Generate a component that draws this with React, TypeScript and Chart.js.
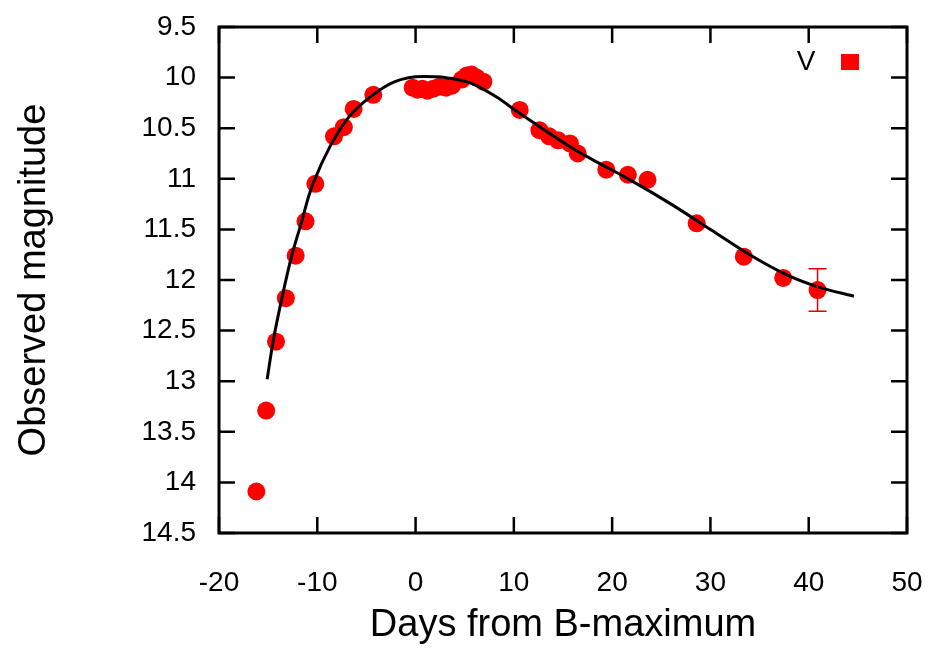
import React, { useEffect, useRef } from 'react';
import { Chart, registerables } from 'chart.js';

Chart.register(...registerables);

// ---- data ----
const obsDays = [-16.2, -15.2, -14.2, -13.2, -12.2, -11.2, -10.2, -8.3, -7.3, -6.3, -4.3, -0.3, 0.2, 0.7, 1.2, 1.8, 2.4, 3.1, 3.7, 4.7, 5.2, 5.7, 6.2, 6.9, 10.6, 12.6, 13.6, 14.5, 15.7, 16.5, 19.4, 21.6, 23.6, 28.6, 33.4, 37.4, 40.9];
const obsMag = [14.09, 13.29, 12.61, 12.18, 11.76, 11.42, 11.05, 10.58, 10.49, 10.31, 10.17, 10.10, 10.12, 10.11, 10.13, 10.11, 10.09, 10.10, 10.08, 10.02, 9.98, 9.97, 10.0, 10.04, 10.32, 10.52, 10.58, 10.62, 10.65, 10.75, 10.91, 10.96, 11.01, 11.44, 11.77, 11.98, 12.10];
const obsErr = [0, 0, 0, 0, 0, 0, 0, 0, 0, 0, 0, 0, 0, 0, 0, 0, 0, 0, 0, 0, 0, 0, 0, 0, 0, 0, 0, 0, 0, 0, 0, 0, 0, 0, 0, 0, 0.21];

const fitDays = [-15.1, -14.5, -13.6, -12.6, -11.55, -10.9, -10.4, -8.7, -6.8, -4.6, -2.1, 0.8, 3.0, 5.5, 8.2, 10.4, 15.5, 18, 22, 26, 30, 34, 38, 41, 44.6];
const fitMag = [12.98, 12.61, 12.18, 11.76, 11.41, 11.18, 11.04, 10.68, 10.39, 10.19, 10.04, 9.99, 10.0, 10.05, 10.19, 10.34, 10.67, 10.81, 11.02, 11.25, 11.50, 11.75, 11.96, 12.07, 12.16];

const xTicks = [-20, -10, 0, 10, 20, 30, 40, 50];
const yTicks = [9.5, 10, 10.5, 11, 11.5, 12, 12.5, 13, 13.5, 14, 14.5];

const xTitle = 'Days from B-maximum';
const yTitle = 'Observed magnitude';
const seriesLabel = 'V';

const FONT = "'Liberation Sans', Arial, Helvetica, sans-serif";
const RED = '#ff0000';

const zeroPad = (s: any) => {
  s.paddingTop = 0;
  s.paddingBottom = 0;
  s.paddingLeft = 0;
  s.paddingRight = 0;
};

const framePlugin = {
  id: 'gnuFrame',
  afterDatasetsDraw(chart: any) {
    const { ctx, chartArea, scales } = chart;
    const { left, right, top, bottom } = chartArea;
    const x = scales.x;
    const y = scales.y;
    ctx.save();
    // error bars
    ctx.strokeStyle = '#e00000';
    ctx.lineWidth = 1.5;
    ctx.beginPath();
    obsDays.forEach((d, i) => {
      const e = obsErr[i];
      if (!e) return;
      const px = x.getPixelForValue(d);
      const y1 = y.getPixelForValue(obsMag[i] - e);
      const y2 = y.getPixelForValue(obsMag[i] + e);
      ctx.moveTo(px, y1);
      ctx.lineTo(px, y2);
      ctx.moveTo(px - 9, y1);
      ctx.lineTo(px + 9, y1);
      ctx.moveTo(px - 9, y2);
      ctx.lineTo(px + 9, y2);
    });
    ctx.stroke();

    // inward ticks on all sides
    const TL = 16;
    ctx.strokeStyle = '#000';
    ctx.lineWidth = 2.5;
    ctx.beginPath();
    xTicks.forEach((v) => {
      const px = x.getPixelForValue(v);
      ctx.moveTo(px, bottom);
      ctx.lineTo(px, bottom - TL);
      ctx.moveTo(px, top);
      ctx.lineTo(px, top + TL);
    });
    yTicks.forEach((v) => {
      const py = y.getPixelForValue(v);
      ctx.moveTo(left, py);
      ctx.lineTo(left + TL, py);
      ctx.moveTo(right, py);
      ctx.lineTo(right - TL, py);
    });
    ctx.stroke();
    ctx.lineWidth = 3;
    ctx.strokeRect(left, top, right - left, bottom - top);

    // key (gnuplot style: text then marker)
    ctx.fillStyle = '#000';
    ctx.font = `28px ${FONT}`;
    ctx.textAlign = 'center';
    ctx.textBaseline = 'middle';
    ctx.fillText(seriesLabel, right - 101, top + 35);
    ctx.fillStyle = RED;
    ctx.fillRect(right - 57 - 9, top + 35 - 8, 18, 16);
    ctx.restore();
  },
};

export default function App() {
  const ref = useRef<HTMLCanvasElement | null>(null);

  useEffect(() => {
    if (!ref.current) return;
    const chart = new Chart(ref.current, {
      type: 'scatter',
      data: {
        datasets: [
          {
            type: 'line',
            label: 'fit',
            data: fitDays.map((d, i) => ({ x: d, y: fitMag[i] })),
            borderColor: '#000',
            borderWidth: 3,
            pointRadius: 0,
            cubicInterpolationMode: 'monotone',
            fill: false,
            order: 0,
          } as any,
          {
            type: 'scatter',
            label: seriesLabel,
            data: obsDays.map((d, i) => ({ x: d, y: obsMag[i] })),
            backgroundColor: RED,
            borderColor: RED,
            borderWidth: 0,
            pointRadius: 9,
            pointStyle: 'circle',
            order: 1,
          } as any,
        ],
      },
      options: {
        animation: false,
        responsive: false,
        layout: { padding: { top: 27, right: 31, left: 0, bottom: 0 } },
        plugins: {
          legend: { display: false },
          tooltip: { enabled: false },
        },
        scales: {
          x: {
            type: 'linear',
            min: -20,
            max: 50,
            afterBuildTicks: (s: any) => {
              s.ticks = xTicks.map((v) => ({ value: v }));
            },
            afterFit: (s: any) => {
              s.height = 115;
              zeroPad(s);
            },
            grid: { display: false, drawTicks: false },
            border: { display: false },
            ticks: {
              color: '#000',
              font: { family: FONT, size: 28 },
              padding: 33,
              maxRotation: 0,
              autoSkip: false,
              callback: (v: any) => String(v),
            },
            title: {
              display: true,
              text: xTitle,
              color: '#000',
              font: { family: FONT, size: 38 },
              padding: { top: 0, bottom: 0 },
            },
          },
          y: {
            type: 'linear',
            reverse: true,
            min: 9.5,
            max: 14.5,
            afterBuildTicks: (s: any) => {
              s.ticks = yTicks.map((v) => ({ value: v }));
            },
            afterFit: (s: any) => {
              s.width = 219;
              zeroPad(s);
            },
            grid: { display: false, drawTicks: false },
            border: { display: false },
            ticks: {
              color: '#000',
              font: { family: FONT, size: 28 },
              padding: 23,
              autoSkip: false,
              callback: (v: any) => String(v),
            },
            title: {
              display: true,
              text: yTitle,
              color: '#000',
              font: { family: FONT, size: 38 },
              padding: { top: 12, bottom: 0 },
            },
          },
        },
      },
      plugins: [framePlugin],
    });
    return () => chart.destroy();
  }, []);

  return (
    <div style={{ position: 'fixed', left: 0, top: 0, width: 938, height: 648, background: '#fff' }}>
      <canvas ref={ref} width={938} height={648} style={{ width: 938, height: 648, display: 'block' }} />
    </div>
  );
}
